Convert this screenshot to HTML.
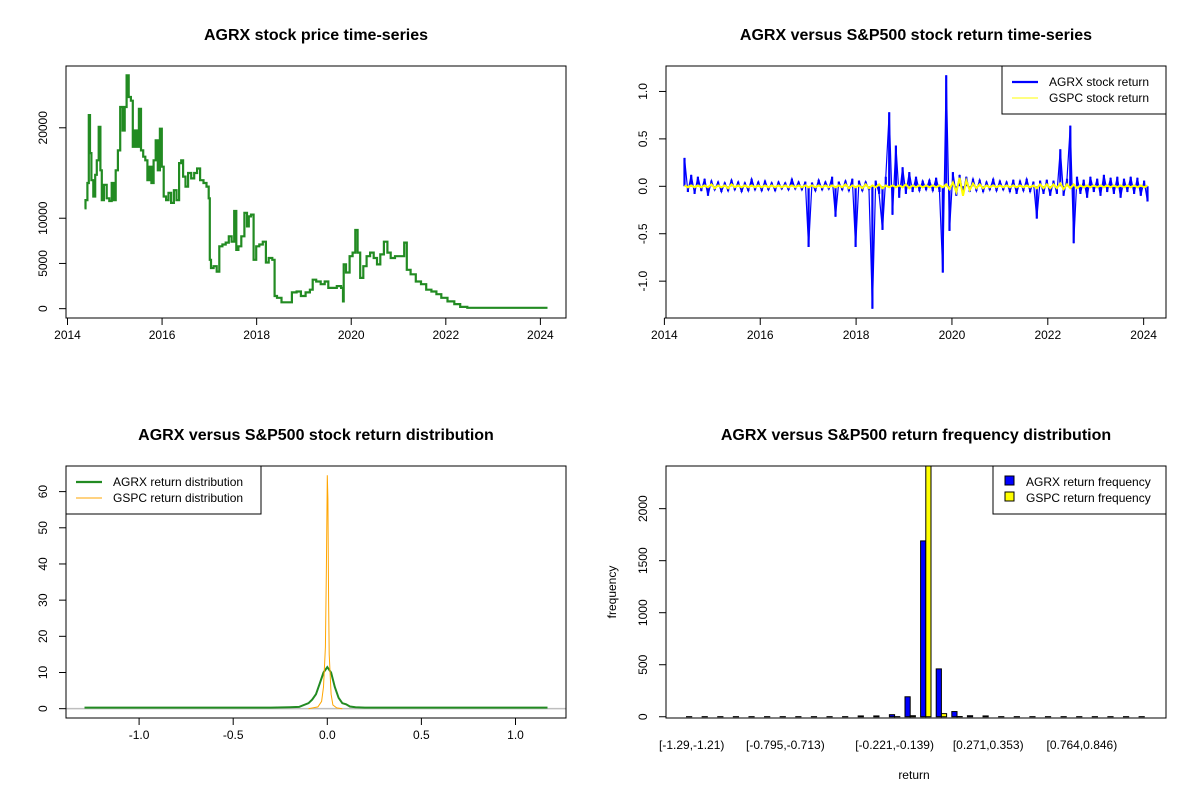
<!DOCTYPE html>
<html><head><meta charset="utf-8"><style>
body{margin:0;background:#fff}
svg{display:block;font-family:"Liberation Sans",Arial,sans-serif}
</style></head><body>
<svg id="c" width="1200" height="800" viewBox="0 0 1200 800">
<rect width="1200" height="800" fill="#fff"/>
</svg>
<script>
// ---- data: price series (years offset from 2014, price) ----
const priceYearOffsets=[0.36,0.40,0.44,0.46,0.49,0.52,0.57,0.60,0.64,0.68,0.71,0.74,0.80,0.86,0.91,0.96,1.00,1.04,1.09,1.14,1.19,1.23,1.27,1.32,1.36,1.40,1.45,1.49,1.53,1.58,1.62,1.67,1.71,1.75,1.80,1.84,1.89,1.93,1.98,2.01,2.06,2.11,2.16,2.22,2.28,2.33,2.39,2.42,2.47,2.52,2.58,2.65,2.71,2.77,2.84,2.91,2.97,3.00,3.02,3.05,3.13,3.18,3.24,3.31,3.38,3.44,3.50,3.55,3.59,3.64,3.71,3.77,3.82,3.85,3.91,3.96,4.02,4.09,4.17,4.22,4.29,4.37,4.39,4.47,4.58,4.69,4.80,4.89,4.98,5.09,5.16,5.21,5.31,5.40,5.48,5.55,5.64,5.75,5.82,5.83,5.85,5.93,6.00,6.06,6.11,6.16,6.22,6.29,6.36,6.44,6.51,6.58,6.65,6.73,6.80,6.87,6.98,7.09,7.15,7.20,7.31,7.42,7.53,7.64,7.75,7.85,7.96,8.11,8.25,8.36,8.55,10.15];
const priceValues=[11100,12000,13900,21400,17200,14200,12400,14800,16400,20100,15300,12000,13700,12200,11900,13900,12000,15300,17500,22300,19700,22300,25800,23400,23000,17900,19700,17900,22100,17500,16800,16400,14200,15700,13900,16400,18600,15300,19900,15700,12400,12000,12800,11700,13100,12000,16100,16400,14600,13500,15000,14400,15000,15500,14200,13900,13500,12200,5400,4500,4700,4100,6900,7100,7300,8000,7400,10800,6500,6900,8000,10600,9100,10200,10400,5400,6900,7100,7400,5100,5600,5400,1400,1200,700,700,1800,1900,1400,1800,2100,3200,3000,2700,3000,2300,2300,2500,2300,800,4900,4000,5800,6200,8700,6200,3400,4700,5800,6200,5600,4900,6000,7400,6200,5600,5800,5800,7300,4300,3800,3000,2700,2100,1900,1600,1200,800,500,200,100,100];
const priceYTicks=[0,5000,10000,20000];
const yearTicks=[2014,2016,2018,2020,2022,2024];
// ---- data: returns (sampled every retStep years from retStart) ----
const retStart=2014.42, retStep=0.07;
const agrxReturns=[0.30,-0.06,0.12,-0.08,0.10,-0.05,0.08,-0.10,0.06,-0.04,0.05,-0.06,0.04,-0.05,0.07,-0.04,0.05,-0.06,0.04,-0.05,0.08,-0.04,0.05,-0.05,0.06,-0.04,0.04,-0.05,0.05,-0.03,0.04,-0.04,0.08,-0.03,0.05,-0.04,0.05,-0.64,0.04,-0.05,0.07,-0.04,0.05,-0.03,0.10,-0.32,0.05,-0.04,0.06,-0.05,0.08,-0.64,0.06,-0.05,0.05,-0.04,-1.29,0.06,-0.08,-0.46,0.10,0.78,-0.30,0.43,-0.12,0.20,-0.08,0.15,-0.06,0.10,-0.05,0.06,-0.04,0.07,-0.05,0.09,-0.06,-0.91,1.17,-0.47,0.15,-0.10,0.12,-0.08,0.10,-0.06,0.08,-0.05,0.07,-0.06,0.05,-0.04,0.08,-0.05,0.06,-0.04,0.05,-0.06,0.07,-0.08,0.06,-0.05,0.08,-0.06,0.05,-0.34,0.06,-0.08,0.07,-0.10,0.06,-0.08,0.39,-0.10,0.08,0.64,-0.60,0.10,-0.08,0.07,-0.12,0.10,-0.06,0.08,-0.10,0.12,-0.06,0.09,-0.08,0.10,-0.12,0.08,-0.06,0.10,-0.08,0.09,-0.10,0.06,-0.16];
const gspcReturns=[0.01,-0.01,0.01,-0.01,0.01,-0.01,0.01,-0.01,0.02,-0.02,0.01,-0.01,0.01,-0.02,0.02,-0.01,0.01,-0.01,0.01,-0.01,0.01,-0.01,0.01,-0.01,0.01,-0.01,0.01,-0.01,0.01,-0.01,0.01,-0.01,0.01,-0.01,0.01,-0.01,0.01,-0.01,0.01,-0.01,0.01,-0.01,0.01,-0.01,0.01,-0.01,0.01,-0.01,0.02,-0.02,0.01,-0.01,0.01,-0.02,0.02,-0.02,0.01,-0.01,0.02,-0.02,0.01,-0.01,0.01,-0.01,0.01,-0.01,0.02,-0.02,0.01,-0.01,0.01,-0.01,0.01,-0.01,0.01,-0.01,0.01,-0.01,0.02,-0.03,0.04,-0.06,0.09,-0.10,0.06,-0.04,0.03,-0.02,0.02,-0.02,0.01,-0.01,0.01,-0.01,0.01,-0.01,0.01,-0.01,0.01,-0.01,0.01,-0.01,0.01,-0.01,0.01,-0.02,0.02,-0.02,0.02,-0.02,0.02,-0.02,0.03,-0.03,0.02,-0.02,0.02,-0.02,0.01,-0.01,0.01,-0.01,0.01,-0.01,0.01,-0.01,0.01,-0.01,0.01,-0.01,0.01,-0.01,0.01,-0.01,0.01,-0.01,0.01,-0.01,0.01];
const retYTicks=[-1.0,-0.5,0.0,0.5,1.0];
// ---- data: densities ----
const agrxDensX=[-1.29,-0.3,-0.2,-0.15,-0.1,-0.08,-0.06,-0.04,-0.02,0,0.02,0.04,0.06,0.08,0.1,0.12,0.15,0.2,1.17];
const agrxDensY=[0.3,0.3,0.4,0.5,1.5,2.5,4,7,10,11.5,10,6,3,1.5,1.2,0.6,0.4,0.3,0.3];
const gspcDensX=[-0.1,-0.05,-0.03,-0.02,-0.01,-0.005,0,0.003,0.007,0.01,0.02,0.03,0.05,0.08];
const gspcDensY=[0,0.5,2,6,17,39,64.5,58,30,15,4,1,0.2,0];
const densXTicks=[-1.0,-0.5,0.0,0.5,1.0];
const densYTicks=[0,10,20,30,40,50,60];
// ---- data: histogram ----
const agrxFreq=[1,1,1,1,1,1,1,1,1,1,1,8,8,20,192,1690,460,50,10,8,1,1,1,1,1,1,1,1,1,1];
const gspcFreq=[0,0,0,0,0,0,0,0,0,0,0,0,0,1,10,2520,30,2,0,0,0,0,0,0,0,0,0,0,0,0];
const histLabels=["[-1.29,-1.21)","[-0.795,-0.713)","[-0.221,-0.139)","[0.271,0.353)","[0.764,0.846)"];
const histLabelIdx=[0,6,13,19,25];
const histYTicks=[0,500,1000,1500,2000];

const NS="http://www.w3.org/2000/svg";
const svg=document.getElementById('c');
function mk(tag,attrs,parent){const e=document.createElementNS(NS,tag);for(const k in attrs)e.setAttribute(k,attrs[k]);(parent||svg).appendChild(e);return e;}
function lin(d0,d1,r0,r1){return v=>r0+(v-d0)/(d1-d0)*(r1-r0);}
function padded(mn,mx){const p=(mx-mn)*0.04;return [mn-p,mx+p];}
function densePath(xs,ys){let d='M'+xs[0].toFixed(1)+','+ys[0].toFixed(1);for(let i=1;i<xs.length;i++){const xm=(xs[i-1]+xs[i])/2;d+='L'+xm.toFixed(1)+','+ys[i-1].toFixed(1)+'L'+xm.toFixed(1)+','+ys[i].toFixed(1)+'L'+xs[i].toFixed(1)+','+ys[i].toFixed(1);}return d;}
function linePts(xs,ys){return xs.map((x,i)=>x.toFixed(1)+','+ys[i].toFixed(1)).join(' ');}
function spikePath(xs,ys,y0){let d='';for(let i=0;i<xs.length;i++){d+='M'+xs[i].toFixed(1)+','+y0.toFixed(1)+'V'+ys[i].toFixed(1);}return d;}

function panel(name,L,T,R,B,title){
  const g=mk('g',{});
  
  
  const t=mk('text',{x:(L+R)/2,y:T-26,'text-anchor':'middle','font-size':16,'font-weight':'bold'},g);
  t.textContent=title;
  
  
  return g;
}
function box(g,L,T,R,B){
  const r=mk('rect',{x:L,y:T,width:R-L,height:B-T,fill:'none',stroke:'#000','stroke-width':1},g);
  
  
}
function xAxis(g,ticks,sx,B,fmt){
  const a=mk('g',{},g);
  
  
  mk('line',{x1:sx(ticks[0]),x2:sx(ticks[ticks.length-1]),y1:B,y2:B,stroke:'#000'},a);
  ticks.forEach(v=>{
    mk('line',{x1:sx(v),x2:sx(v),y1:B,y2:B+7,stroke:'#000'},a);
    const t=mk('text',{x:sx(v),y:B+21,'text-anchor':'middle','font-size':12},a);
    t.textContent=fmt(v);
    
    
  });
}
function yAxis(g,ticks,sy,L,fmt){
  const a=mk('g',{},g);
  
  
  mk('line',{x1:L,x2:L,y1:sy(ticks[0]),y2:sy(ticks[ticks.length-1]),stroke:'#000'},a);
  ticks.forEach(v=>{
    mk('line',{x1:L-7,x2:L,y1:sy(v),y2:sy(v),stroke:'#000'},a);
    const x=L-19,y=sy(v);
    const t=mk('text',{x:x,y:y,'text-anchor':'middle','font-size':12,transform:`rotate(-90 ${x} ${y})`},a);
    t.textContent=fmt(v);
    
    
  });
}
function clip(id,L,T,R,B){const cp=mk('clipPath',{id:id});mk('rect',{x:L,y:T,width:R-L,height:B-T},cp);}

// ===== Panel 1: price =====
(function(){
  const L=66,T=66,R=566,B=318;
  const g=panel('price-chart',L,T,R,B,'AGRX stock price time-series');
  const yrs=priceYearOffsets.map(o=>2014+o);
  const [x0,x1]=padded(Math.min(...yrs),Math.max(...yrs));
  const [y0,y1]=padded(0,Math.max(...priceValues));
  const sx=lin(x0,x1,L,R), sy=lin(y0,y1,B,T);
  const pl=mk('path',{d:densePath(yrs.map(sx),priceValues.map(sy)),fill:'none',stroke:'#228B22','stroke-width':2.2},g);
  
  
  box(g,L,T,R,B);
  xAxis(g,yearTicks,sx,B,v=>String(v));
  yAxis(g,priceYTicks,sy,L,v=>String(v));
})();

// ===== Panel 2: returns =====
(function(){
  const L=666,T=66,R=1166,B=318;
  const g=panel('return-chart',L,T,R,B,'AGRX versus S&P500 stock return time-series');
  const n=agrxReturns.length;
  const dates=agrxReturns.map((_,i)=>retStart+i*retStep);
  const [x0,x1]=padded(dates[0],dates[n-1]);
  const all=agrxReturns.concat(gspcReturns);
  const [y0,y1]=padded(Math.min(...all),Math.max(...all));
  const sx=lin(x0,x1,L,R), sy=lin(y0,y1,B,T);
  clip('cp2',L,T,R,B);
  const xs=dates.map(sx), ys=agrxReturns.map(sy);
  const a=mk('g',{'clip-path':'url(#cp2)'},g);
  
  
  mk('polyline',{points:linePts(xs,ys),fill:'none',stroke:'#0000ff','stroke-width':1.2},a);
  mk('path',{d:spikePath(xs,ys,sy(0)),fill:'none',stroke:'#0000ff','stroke-width':2.2},a);
  const gd=gspcReturns.map((_,i)=>retStart+i*retStep*(n-1)/(gspcReturns.length-1));
  const b=mk('polyline',{points:linePts(gd.map(sx),gspcReturns.map(sy)),fill:'none',stroke:'#ffff00','stroke-width':2,'clip-path':'url(#cp2)'},g);
  
  
  box(g,L,T,R,B);
  xAxis(g,yearTicks,sx,B,v=>String(v));
  yAxis(g,retYTicks,sy,L,v=>v.toFixed(1));
  const lg=mk('g',{},g);
  
  
  mk('rect',{x:1002,y:66,width:164,height:48,fill:'#fff',stroke:'#000'},lg);
  mk('line',{x1:1012,x2:1038,y1:82,y2:82,stroke:'#0000ff','stroke-width':2.2},lg);
  mk('line',{x1:1012,x2:1038,y1:98,y2:98,stroke:'#ffff00','stroke-width':1},lg);
  const t1=mk('text',{x:1049,y:86,'font-size':12},lg);t1.textContent='AGRX stock return';
  
  
  const t2=mk('text',{x:1049,y:102,'font-size':12},lg);t2.textContent='GSPC stock return';
  
  
})();

// ===== Panel 3: density =====
(function(){
  const L=66,T=466,R=566,B=718;
  const g=panel('density-chart',L,T,R,B,'AGRX versus S&P500 stock return distribution');
  const [x0,x1]=padded(Math.min(...agrxDensX),Math.max(...agrxDensX));
  const [y0,y1]=padded(0,Math.max(...gspcDensY));
  const sx=lin(x0,x1,L,R), sy=lin(y0,y1,B,T);
  clip('cp3',L,T,R,B);
  const ab=mk('line',{x1:L,x2:R,y1:sy(0),y2:sy(0),stroke:'#bebebe','stroke-width':1.5,'clip-path':'url(#cp3)'},g);
  
  
  const a=mk('polyline',{points:linePts(agrxDensX.map(sx),agrxDensY.map(sy)),fill:'none',stroke:'#228B22','stroke-width':2},g);
  
  
  const b=mk('polyline',{points:linePts(gspcDensX.map(sx),gspcDensY.map(sy)),fill:'none',stroke:'#ffa500','stroke-width':1},g);
  
  
  box(g,L,T,R,B);
  xAxis(g,densXTicks,sx,B,v=>v.toFixed(1));
  yAxis(g,densYTicks,sy,L,v=>String(v));
  const lg=mk('g',{},g);
  
  
  mk('rect',{x:66,y:466,width:195,height:48,fill:'#fff',stroke:'#000'},lg);
  mk('line',{x1:76,x2:102,y1:482,y2:482,stroke:'#228B22','stroke-width':2.2},lg);
  mk('line',{x1:76,x2:102,y1:498,y2:498,stroke:'#ffa500','stroke-width':1},lg);
  const t1=mk('text',{x:113,y:486,'font-size':12},lg);t1.textContent='AGRX return distribution';
  
  
  const t2=mk('text',{x:113,y:502,'font-size':12},lg);t2.textContent='GSPC return distribution';
  
  
})();

// ===== Panel 4: histogram =====
(function(){
  const L=666,T=466,R=1166,B=718;
  const g=panel('histogram-chart',L,T,R,B,'AGRX versus S&P500 return frequency distribution');
  const nG=agrxFreq.length;
  const [u0,u1]=padded(1,3*nG);
  const su=lin(u0,u1,L+2,R+2);
  const sy=lin(-12,2410,B,T);
  clip('cp4',L,T,R,B);
  const bars=mk('g',{'clip-path':'url(#cp4)'},g);
  
  
  for(let i=0;i<nG;i++){
    const ra=mk('rect',{x:su(3*i+1),y:sy(agrxFreq[i]),width:su(3*i+2)-su(3*i+1),height:sy(0)-sy(agrxFreq[i]),fill:'#0000ff',stroke:'#000','stroke-width':1},bars);
    
    
    const rb=mk('rect',{x:su(3*i+2),y:sy(gspcFreq[i]),width:su(3*i+3)-su(3*i+2),height:sy(0)-sy(gspcFreq[i]),fill:'#ffff00',stroke:'#000','stroke-width':1},bars);
    
    
  }
  box(g,L,T,R,B);
  yAxis(g,histYTicks,sy,L,v=>String(v));
  histLabelIdx.forEach((idx,k)=>{
    const t=mk('text',{x:su(3*idx+2),y:749,'text-anchor':'middle','font-size':12},g);
    t.textContent=histLabels[k];
    
    
  });
  const xt=mk('text',{x:914,y:779,'text-anchor':'middle','font-size':12},g);xt.textContent='return';
  
  
  const yt=mk('text',{x:616,y:592,'text-anchor':'middle','font-size':12,transform:'rotate(-90 616 592)'},g);yt.textContent='frequency';
  
  
  const lg=mk('g',{},g);
  
  
  mk('rect',{x:993,y:466,width:173,height:48,fill:'#fff',stroke:'#000'},lg);
  mk('rect',{x:1005,y:476,width:9,height:9,fill:'#0000ff',stroke:'#000'},lg);
  mk('rect',{x:1005,y:492,width:9,height:9,fill:'#ffff00',stroke:'#000'},lg);
  const t1=mk('text',{x:1026,y:486,'font-size':12},lg);t1.textContent='AGRX return frequency';
  
  
  const t2=mk('text',{x:1026,y:502,'font-size':12},lg);t2.textContent='GSPC return frequency';
  
  
})();
</script>
</body></html>
